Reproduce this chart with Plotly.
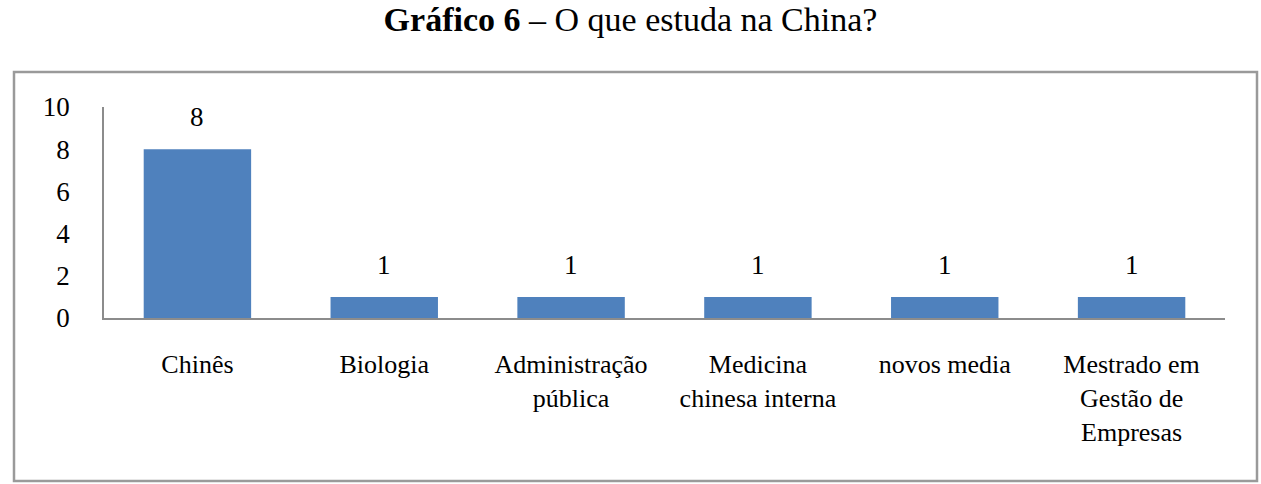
import plotly.graph_objects as go

categories = [
    "Chinês",
    "Biologia",
    "Administração<br>pública",
    "Medicina<br>chinesa interna",
    "novos media",
    "Mestrado em<br>Gestão de<br>Empresas",
]
values = [8, 1, 1, 1, 1, 1]
y_ticks = [0, 2, 4, 6, 8, 10]

W, H = 1261, 484
L, R, T, B = 104, 36, 107, 165.5
pw, ph = W - L - R, H - T - B

FONT = "Liberation Serif, Times New Roman, serif"

fig = go.Figure()
fig.add_trace(go.Bar(
    x=categories, y=values,
    marker=dict(color="#4F81BD", line=dict(width=0)),
    width=0.575,
    hoverinfo="skip",
))

for c, v in zip(categories, values):
    fig.add_annotation(
        x=c, y=v, xref="x", yref="y", text=str(v), showarrow=False,
        yanchor="bottom", yshift=15,
        font=dict(family=FONT, size=27, color="#000000"),
    )

def px_x(p):
    return (p - L) / pw

def px_y(p):
    return (H - B - p) / ph

fig.add_shape(
    type="rect", xref="paper", yref="paper",
    x0=px_x(14), x1=px_x(1257), y0=px_y(482), y1=px_y(72),
    line=dict(color="#9A9A9A", width=2.5), fillcolor="rgba(0,0,0,0)",
    layer="below",
)

fig.update_layout(
    width=W, height=H,
    margin=dict(l=L, r=R, t=T, b=B, pad=0),
    paper_bgcolor="white", plot_bgcolor="white",
    showlegend=False,
    bargap=0.425,
    font=dict(family=FONT, size=26, color="#000000"),
    title=dict(
        text="<b>Gráfico 6</b> – O que estuda na China?",
        x=0.5, xref="container", xanchor="center",
        y=1 - 19 / H, yref="container", yanchor="middle",
        font=dict(family=FONT, size=34, color="#000000"),
    ),
    xaxis=dict(
        type="category",
        showline=True, linecolor="#8C8C8C", linewidth=1.5,
        showgrid=False, zeroline=False,
        ticks="", ticklabelstandoff=22,
        tickfont=dict(family=FONT, size=26, color="#000000"),
        fixedrange=True,
    ),
    yaxis=dict(
        range=[0, 10],
        tickvals=y_ticks,
        showline=True, linecolor="#8C8C8C", linewidth=1.5,
        showgrid=False, zeroline=False,
        ticks="", ticklabelstandoff=27,
        tickfont=dict(family=FONT, size=27, color="#000000"),
        fixedrange=True,
    ),
)

fig.write_html("out.html")
